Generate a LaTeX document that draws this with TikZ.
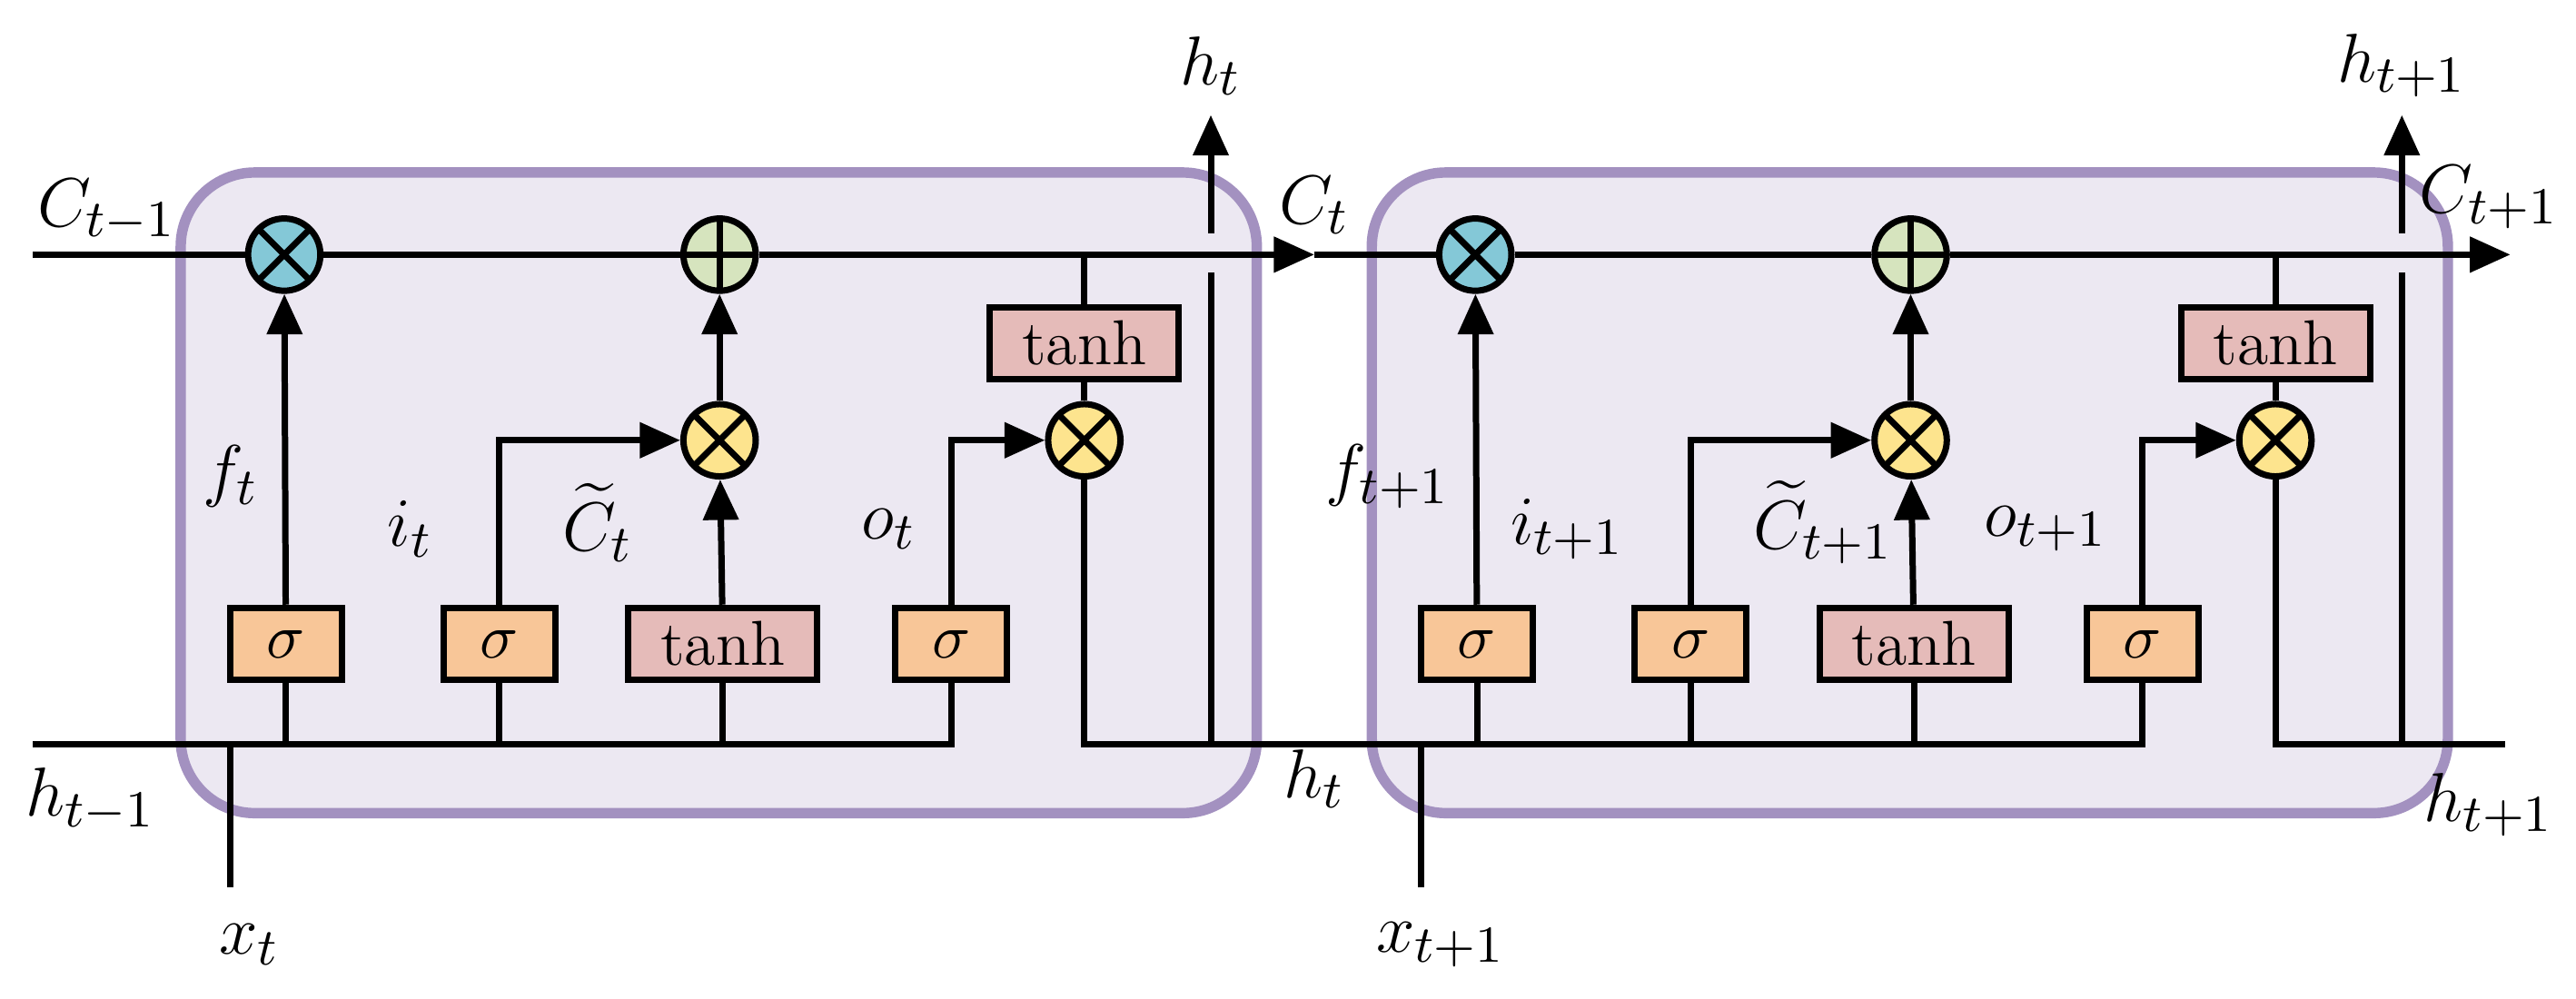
\documentclass[tikz,border=0pt]{standalone}
\usepackage{amsmath}
\usetikzlibrary{arrows.meta}
\definecolor{cellfill}{RGB}{236,232,242}
\definecolor{celldraw}{RGB}{163,145,192}
\definecolor{sigfill}{RGB}{248,198,152}
\definecolor{tanhfill}{RGB}{229,187,185}
\definecolor{forgetfill}{RGB}{132,200,215}
\definecolor{addfill}{RGB}{214,228,190}
\definecolor{gatefill}{RGB}{253,228,142}
\tikzset{
  wire/.style={line width=1.1pt, black},
  flow/.style={wire, -{Triangle[length=7pt,width=6pt]}},
  cell/.style={line width=1.8pt, draw=celldraw, fill=cellfill, rounded corners=0.45cm},
  act/.style={draw, line width=1.1pt, minimum height=0.44cm, inner sep=0pt,
              font=\fontsize{11}{13}\selectfont},
  sig/.style={act, fill=sigfill, minimum width=0.68cm},
  tnh/.style={act, fill=tanhfill, minimum width=1.15cm},
  op/.style={draw, circle, line width=1.1pt, minimum size=0.44cm, inner sep=0pt},
  mul/.style={op, path picture={
      \draw[line width=1.1pt] ($(path picture bounding box.center)+(45:0.22)$) -- ($(path picture bounding box.center)+(225:0.22)$)
        ($(path picture bounding box.center)+(135:0.22)$) -- ($(path picture bounding box.center)+(315:0.22)$);}},
  add/.style={op, path picture={
      \draw[line width=1.1pt] ($(path picture bounding box.center)+(0,0.22)$) -- ($(path picture bounding box.center)+(0,-0.22)$)
        ($(path picture bounding box.center)+(-0.22,0)$) -- ($(path picture bounding box.center)+(0.22,0)$);}},
  lbl/.style={font=\fontsize{12.5}{15}\selectfont}
}
\usetikzlibrary{calc}
\begin{document}
\begin{tikzpicture}
\useasboundingbox (0,0) rectangle (15.68,-6.08);

% CELLS
\foreach \i/\dx/\n in {1/0/t, 2/7.25/t+1}{
\begin{scope}[xshift=\dx cm]
\draw[cell] (1.10,-1.05) rectangle (7.65,-4.95);

\node(mf\i)[mul, fill=forgetfill] at (1.73,-1.55) {};
\node(ad\i)[add, fill=addfill]    at (4.38,-1.55) {};
\node(mi\i)[mul, fill=gatefill]   at (4.38,-2.68) {};
\node(mo\i)[mul, fill=gatefill]   at (6.60,-2.68) {};
\node(tc\i)[tnh] at (6.60,-2.09) {tanh};

\node(sf\i)[sig] at (1.74,-3.92) {$\sigma$};
\node(si\i)[sig] at (3.04,-3.92) {$\sigma$};
\node(tn\i)[tnh] at (4.40,-3.92) {tanh};
\node(so\i)[sig] at (5.79,-3.92) {$\sigma$};

\coordinate(hv\i) at (7.37,-4.53);
\coordinate(xb\i) at (1.40,-5.40);

\draw[flow] (sf\i) -- (mf\i);
\draw[flow] (si\i.north) |- (mi\i);
\draw[flow] (tn\i) -- (mi\i);
\draw[flow] (mi\i) -- (ad\i);
\draw[flow] (so\i.north) |- (mo\i);
\draw[wire] (mo\i) -- (tc\i);
\draw[wire] (tc\i) -- (tc\i |- ad\i);
\draw[wire] (sf\i.south) -- (sf\i.south |- hv\i);
\draw[wire] (si\i.south) -- (si\i.south |- hv\i);
\draw[wire] (tn\i.south) -- (tn\i.south |- hv\i);
\draw[wire] (xb\i) -- (xb\i |- hv\i);
\draw[wire] (hv\i) -- (7.37,-1.66);
\draw[flow] (7.37,-1.42) -- (7.37,-0.70);
\draw[wire] (mf\i) -- (ad\i);

\node[lbl, anchor=east] at (1.70,-2.90) {$f_{\n}$};
\node[lbl, anchor=east] at (2.76,-3.22) {$i_{\n}$};
\node[lbl, anchor=west] at (3.30,-3.18) {$\widetilde{C}_{\n}$};
\node[lbl, anchor=east] at (5.70,-3.22) {$o_{\n}$};
\node[lbl] at (7.37,-0.40) {$h_{\n}$};
\node[lbl] at (1.52,-5.75) {$x_{\n}$};
\end{scope}
}

% CELL STATE AND HIDDEN STATE
\coordinate(cin) at (0.20,-1.55);
\coordinate(cmid) at (8.00,-1.55);
\coordinate(cout) at (15.28,-1.55);
\coordinate(hin) at (0.20,-4.53);
\coordinate(hout) at (15.25,-4.53);

\draw[wire] (cin) -- (mf1);
\draw[flow] (ad1) -- (cmid);
\draw[wire] (cmid) -- (mf2);
\draw[flow] (ad2) -- (cout);

\draw[wire] (hin) -| (so1.south);
\draw[wire] (mo1) |- (so2 |- hv2) -- (so2.south);
\draw[wire] (mo2) |- (hout);

\node[lbl] at (0.65,-1.28) {$C_{t-1}$};
\node[lbl] at (8.00,-1.25) {$C_{t}$};
\node[lbl] at (15.15,-1.20) {$C_{t+1}$};
\node[lbl] at (0.55,-4.87) {$h_{t-1}$};
\node[lbl] at (8.00,-4.74) {$h_{t}$};
\node[lbl] at (15.15,-4.90) {$h_{t+1}$};

\end{tikzpicture}
\end{document}
